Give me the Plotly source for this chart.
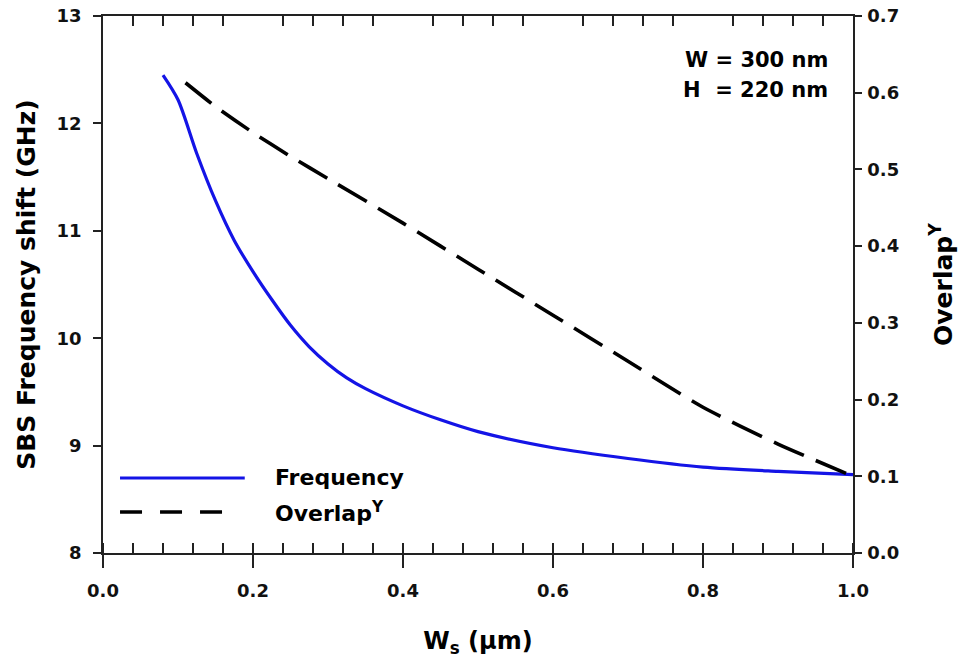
import plotly.graph_objects as go

# Data
ws_freq = [0.08, 0.10, 0.125, 0.15, 0.175, 0.2, 0.225, 0.25, 0.275, 0.3, 0.325, 0.35, 0.4, 0.45, 0.5, 0.6, 0.7, 0.8, 0.9, 1.0]
freq_ghz = [12.45, 12.22, 11.72, 11.28, 10.91, 10.62, 10.36, 10.12, 9.92, 9.76, 9.63, 9.53, 9.37, 9.24, 9.13, 8.98, 8.88, 8.80, 8.76, 8.73]

ws_ovl = [0.11, 0.15, 0.2, 0.25, 0.3, 0.4, 0.5, 0.6, 0.7, 0.8, 0.9, 1.0]
overlap_y = [0.613, 0.582, 0.548, 0.517, 0.488, 0.430, 0.370, 0.310, 0.250, 0.190, 0.142, 0.100]

FONT = "DejaVu Sans"
AX = "#222222"
TICKFONT = dict(size=18, family=FONT, weight="bold", color="#111111")

fig = go.Figure()
fig.add_trace(go.Scatter(x=ws_freq, y=freq_ghz, mode="lines", name="Frequency",
                         line=dict(color="#1414e6", width=3.2, shape="spline", smoothing=0.8),
                         showlegend=False))
fig.add_trace(go.Scatter(x=ws_ovl, y=overlap_y, mode="lines", name="Overlap<sup>Y</sup>",
                         xaxis="x2", yaxis="y2",
                         line=dict(color="black", width=3.6, dash="33px,13px", shape="spline", smoothing=0.6),
                         showlegend=False))

fig.update_layout(
    width=958, height=661,
    margin=dict(l=103, r=105, t=16, b=108),
    paper_bgcolor="white", plot_bgcolor="white",
    font=dict(family=FONT, color="black"),
    xaxis=dict(range=[0, 1.0], dtick=0.2, tickformat=".1f", showgrid=False, zeroline=False, automargin=False,
               showline=True, linecolor=AX, linewidth=1.5, mirror=True,
               ticks="outside", ticklen=13, tickwidth=1.5, tickcolor=AX,
               minor=dict(ticks="inside", dtick=0.04, ticklen=10, tickwidth=1.5, tickcolor=AX),
               tickfont=TICKFONT, ticklabelstandoff=8,
               title=dict(text="<b>W<sub>s</sub> (μm)</b>", font=dict(size=24, family=FONT), standoff=32)),
    xaxis2=dict(range=[0, 1.0], overlaying="x", side="top", anchor="y", showgrid=False, zeroline=False,
                automargin=False, showline=False, showticklabels=False, ticks="", dtick=0.2,
                minor=dict(ticks="inside", dtick=0.04, ticklen=10, tickwidth=1.5, tickcolor=AX)),
    yaxis=dict(range=[8, 13], dtick=1, showgrid=False, zeroline=False, automargin=False,
               showline=True, linecolor=AX, linewidth=1.5,
               ticks="outside", ticklen=8, tickwidth=1.5, tickcolor=AX,
               tickfont=TICKFONT, ticklabelstandoff=8,
               title=dict(text="<b>SBS Frequency shift (GHz)</b>", font=dict(size=25, family=FONT), standoff=14)),
    yaxis2=dict(range=[0, 0.7], dtick=0.1, tickformat=".1f", overlaying="y", side="right", anchor="x",
                showgrid=False, zeroline=False, automargin=False, showline=True, linecolor=AX, linewidth=1.5,
                ticks="outside", ticklen=7, tickwidth=1.5, tickcolor=AX,
                tickfont=TICKFONT, ticklabelstandoff=2,
                title=dict(text="<b>Overlap<sup>Y</sup></b>", font=dict(size=25, family=FONT), standoff=36)),
)

# Legend drawn as decoration
fig.add_shape(type="line", xref="paper", yref="paper", x0=0.0227, x1=0.189, y0=0.1397, y1=0.1397,
              line=dict(color="#1414e6", width=3.2))
fig.add_shape(type="line", xref="paper", yref="paper", x0=0.0227, x1=0.169, y0=0.0764, y1=0.0764,
              line=dict(color="black", width=3.6, dash="22px,18px"))
fig.add_annotation(xref="paper", yref="paper", x=0.2267, y=0.1397, xanchor="left", yanchor="middle",
                   text="<b>Frequency</b>", showarrow=False, font=dict(size=22, family=FONT))
fig.add_annotation(xref="paper", yref="paper", x=0.2267, y=0.0764, xanchor="left", yanchor="middle",
                   text="<b>Overlap<sup>Y</sup></b>", showarrow=False, font=dict(size=22, family=FONT))

# Parameter text
fig.add_annotation(xref="paper", yref="paper", x=0.969, y=0.918, xanchor="right", yanchor="middle",
                   text="<b>W = 300 nm</b>", showarrow=False, font=dict(size=21, family=FONT))
fig.add_annotation(xref="paper", yref="paper", x=0.969, y=0.862, xanchor="right", yanchor="middle",
                   text="<b>H  = 220 nm</b>", showarrow=False, font=dict(size=21, family=FONT))

fig.write_html("out.html", config={"displayModeBar": False},
               post_script="document.body.style.margin='0';")
